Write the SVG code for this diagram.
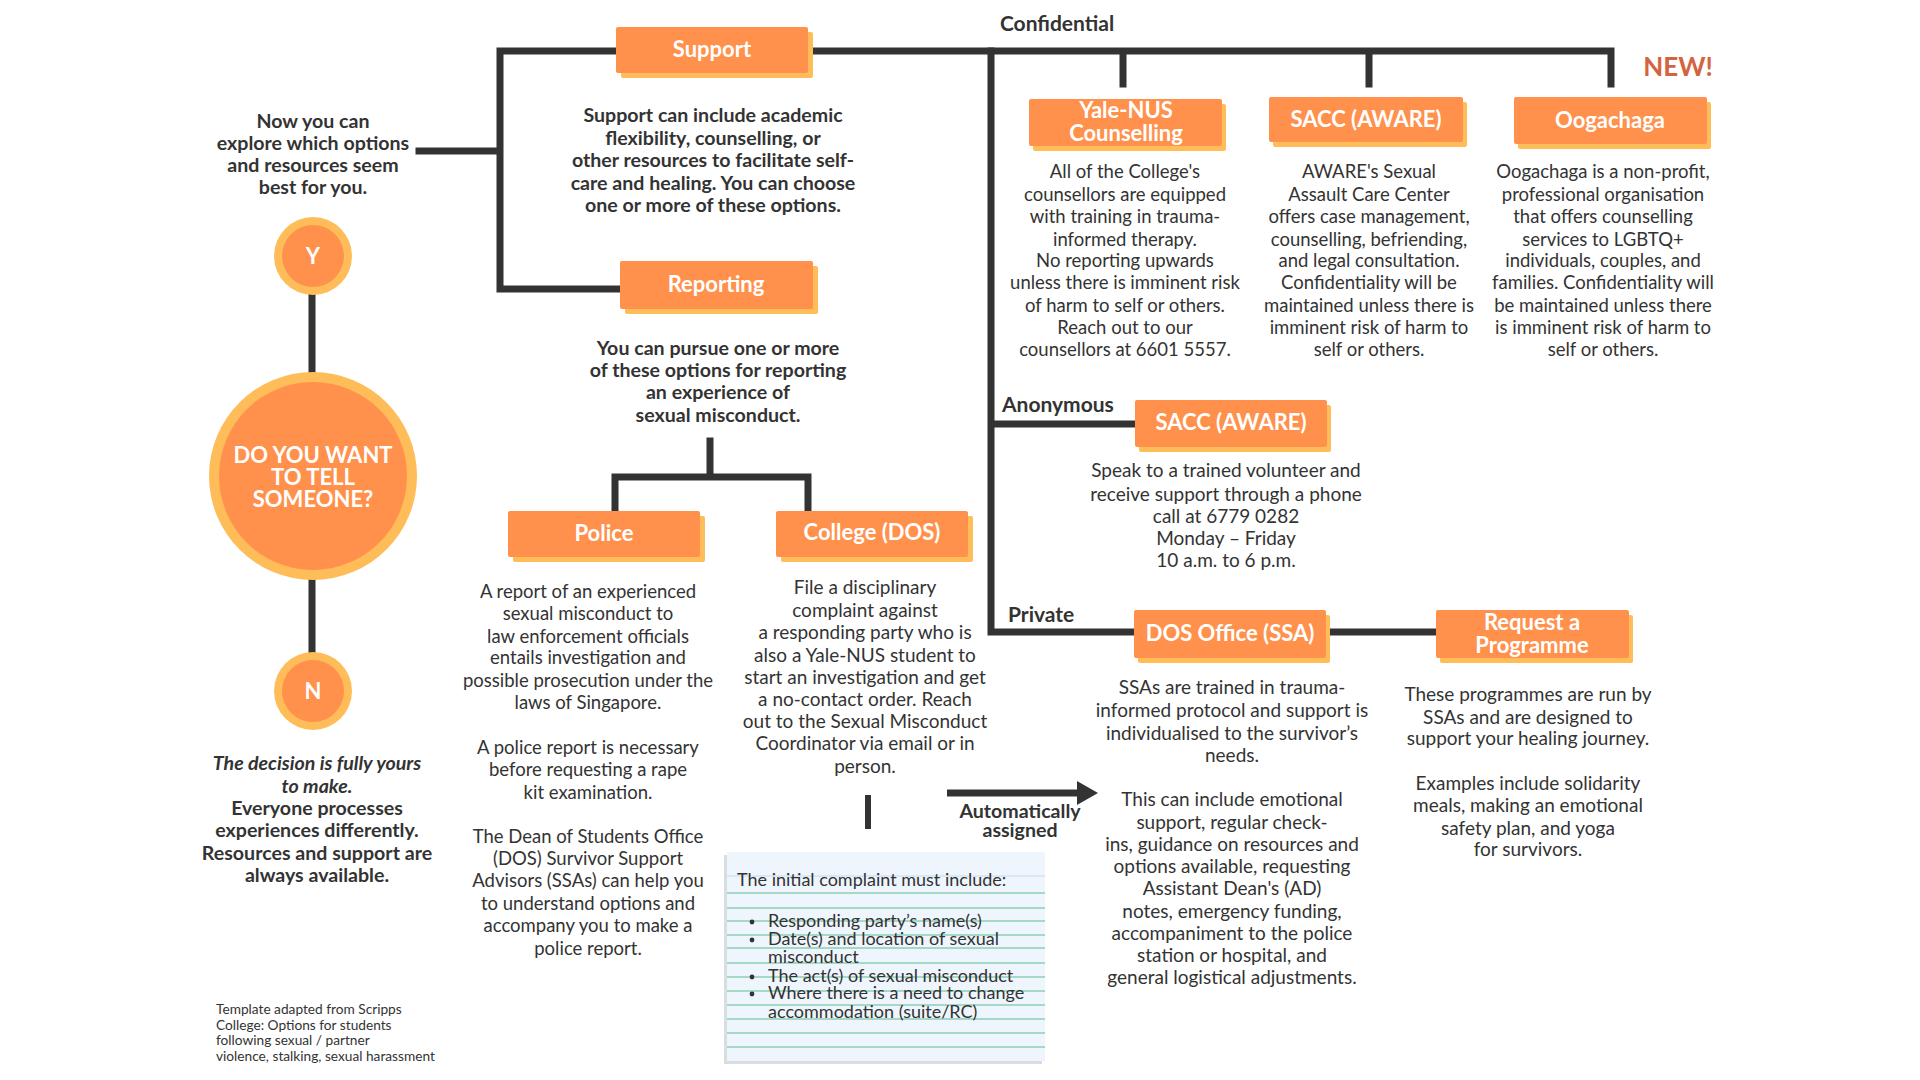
<svg xmlns="http://www.w3.org/2000/svg" width="1920" height="1080" viewBox="0 0 1920 1080">
<defs>
<style>
.ln{stroke:#333333;stroke-width:7;fill:none;stroke-linecap:square}
.sh{fill:#FFBD59}
.bx{fill:#FF914D}
.ring{fill:#FFBD59}
.lbl{font-family:Lato,"Liberation Sans",sans-serif;font-weight:700;font-size:22px;fill:#ffffff;text-anchor:middle}
.t{font-family:Lato,"Liberation Sans",sans-serif;font-size:18.5px;fill:#333333;text-anchor:middle}
.t2{font-family:Lato,"Liberation Sans",sans-serif;font-size:19px;fill:#333333;text-anchor:middle}
.tb{font-family:Lato,"Liberation Sans",sans-serif;font-size:19.6px;font-weight:700;fill:#333333;text-anchor:middle}
.hd{font-family:Lato,"Liberation Sans",sans-serif;font-size:21px;font-weight:700;fill:#333333}
.nb{font-family:Lato,"Liberation Sans",sans-serif;font-size:18px;fill:#333333}
.gl{stroke:#8ECFB2;stroke-width:1.5}
</style>
</defs>
<rect width="1920" height="1080" fill="#ffffff"/>

<g id="connectors">
<path class="ln" d="M419,151 H500 M500,51 V289 M500,51 H616 M500,289 H620"/>
<path class="ln" d="M808,51 H1611 M1123,51 V84 M1369,51 V84 M1611,51 V84"/>
<path class="ln" d="M991,51 V632 M991,424 H1135 M991,632 H1134 M1326,632 H1436"/>
<path class="ln" d="M710,441 V477 M615,477 H808 M615,477 V511 M808,477 V511"/>
<path class="ln" d="M312,295 V372 M312,580 V652"/>
<path d="M868,795 V829" stroke="#333333" stroke-width="6"/>
<path d="M947,793 H1080" stroke="#333333" stroke-width="7"/>
<polygon points="1077,781 1098,793 1077,805" fill="#333333"/>
</g>

<g id="intro">
<text class="tb"><tspan x="313" y="128">Now you can</tspan><tspan x="313" y="150">explore which options</tspan><tspan x="313" y="172">and resources seem</tspan><tspan x="313" y="194">best for you.</tspan></text>
</g>

<g id="node-y">
<circle class="ring" cx="313" cy="256" r="39"/>
<circle class="bx" cx="313" cy="256" r="31"/>
<text class="lbl" x="313" y="264">Y</text>
</g>

<g id="node-question">
<circle class="ring" cx="313" cy="476" r="104"/>
<circle class="bx" cx="313" cy="476" r="94"/>
<text class="lbl" font-size="23"><tspan x="313" y="463">DO YOU WANT</tspan><tspan x="313" y="485">TO TELL</tspan><tspan x="313" y="507">SOMEONE?</tspan></text>
</g>

<g id="node-n">
<circle class="ring" cx="313" cy="691" r="39"/>
<circle class="bx" cx="313" cy="691" r="31"/>
<text class="lbl" x="313" y="699">N</text>
</g>

<g id="decision-text">
<text class="tb" font-size="20"><tspan x="317" y="770" font-style="italic">The decision is fully yours</tspan><tspan x="317" y="793" font-style="italic">to make.</tspan><tspan x="317" y="815">Everyone processes</tspan><tspan x="317" y="837">experiences differently.</tspan><tspan x="317" y="860">Resources and support are</tspan><tspan x="317" y="882">always available.</tspan></text>
</g>

<g id="template-note">
<text font-family="Lato,'Liberation Sans',sans-serif" font-size="13.7" fill="#333333"><tspan x="216" y="1014">Template adapted from Scripps</tspan><tspan x="216" y="1030">College: Options for students</tspan><tspan x="216" y="1045">following sexual / partner</tspan><tspan x="216" y="1061">violence, stalking, sexual harassment</tspan></text>
</g>

<g id="node-support">
<rect class="sh" x="621" y="32" width="192" height="46" rx="2"/>
<rect class="bx" x="616" y="27" width="192" height="46" rx="2"/>
<text class="lbl" x="712" y="57">Support</text>
<text class="tb"><tspan x="713" y="122">Support can include academic</tspan><tspan x="713" y="145">flexibility, counselling, or</tspan><tspan x="713" y="167">other resources to facilitate self-</tspan><tspan x="713" y="190">care and healing. You can choose</tspan><tspan x="713" y="212">one or more of these options.</tspan></text>
</g>

<g id="node-reporting">
<rect class="sh" x="625" y="266" width="193" height="48" rx="2"/>
<rect class="bx" x="620" y="261" width="193" height="48" rx="2"/>
<text class="lbl" x="716" y="292">Reporting</text>
<text class="tb"><tspan x="718" y="355">You can pursue one or more</tspan><tspan x="718" y="377">of these options for reporting</tspan><tspan x="718" y="399">an experience of</tspan><tspan x="718" y="422">sexual misconduct.</tspan></text>
</g>

<g id="node-police">
<rect class="sh" x="513" y="516" width="192" height="46" rx="2"/>
<rect class="bx" x="508" y="511" width="192" height="46" rx="2"/>
<text class="lbl" x="604" y="541">Police</text>
<text class="t"><tspan x="588" y="598">A report of an experienced</tspan><tspan x="588" y="620">sexual misconduct to</tspan><tspan x="588" y="643">law enforcement officials</tspan><tspan x="588" y="664">entails investigation and</tspan><tspan x="588" y="687">possible prosecution under the</tspan><tspan x="588" y="709">laws of Singapore.</tspan><tspan x="588" y="754">A police report is necessary</tspan><tspan x="588" y="776">before requesting a rape</tspan><tspan x="588" y="799">kit examination.</tspan><tspan x="588" y="843">The Dean of Students Office</tspan><tspan x="588" y="865">(DOS) Survivor Support</tspan><tspan x="588" y="887">Advisors (SSAs) can help you</tspan><tspan x="588" y="910">to understand options and</tspan><tspan x="588" y="932">accompany you to make a</tspan><tspan x="588" y="955">police report.</tspan></text>
</g>

<g id="node-college">
<rect class="sh" x="781" y="516" width="192" height="46" rx="2"/>
<rect class="bx" x="776" y="511" width="192" height="46" rx="2"/>
<text class="lbl" x="872" y="540">College (DOS)</text>
<text class="t2"><tspan x="865" y="594">File a disciplinary</tspan><tspan x="865" y="617">complaint against</tspan><tspan x="865" y="639">a responding party who is</tspan><tspan x="865" y="662">also a Yale-NUS student to</tspan><tspan x="865" y="684">start an investigation and get</tspan><tspan x="865" y="706">a no-contact order. Reach</tspan><tspan x="865" y="728">out to the Sexual Misconduct</tspan><tspan x="865" y="750">Coordinator via email or in</tspan><tspan x="865" y="773">person.</tspan></text>
</g>

<g id="complaint-note">
<rect x="724" y="855" width="318" height="209" fill="#DADDE0"/>
<rect x="727" y="852" width="318" height="209" fill="#EEF5FD"/>
<line x1="727" y1="876" x2="1045" y2="876" stroke="#D3E3F2" stroke-width="1.5"/>
<g class="gl">
<line x1="727" y1="893" x2="1045" y2="893"/>
<line x1="727" y1="908" x2="1045" y2="908"/>
<line x1="727" y1="921" x2="1045" y2="921"/>
<line x1="727" y1="935" x2="1045" y2="935"/>
<line x1="727" y1="948" x2="1045" y2="948"/>
<line x1="727" y1="963" x2="1045" y2="963"/>
<line x1="727" y1="977" x2="1045" y2="977"/>
<line x1="727" y1="991" x2="1045" y2="991"/>
<line x1="727" y1="1005" x2="1045" y2="1005"/>
<line x1="727" y1="1019" x2="1045" y2="1019"/>
<line x1="727" y1="1033" x2="1045" y2="1033"/>
<line x1="727" y1="1047" x2="1045" y2="1047"/>
</g>
<text class="nb" x="737" y="886">The initial complaint must include:</text>
<g fill="#333333"><circle cx="752" cy="922" r="2.4"/><circle cx="752" cy="940" r="2.4"/><circle cx="752" cy="977" r="2.4"/><circle cx="752" cy="994" r="2.4"/></g>
<text class="nb"><tspan x="768" y="927">Responding party’s name(s)</tspan><tspan x="768" y="945">Date(s) and location of sexual</tspan><tspan x="768" y="963">misconduct</tspan><tspan x="768" y="982">The act(s) of sexual misconduct</tspan><tspan x="768" y="999">Where there is a need to change</tspan><tspan x="768" y="1018">accommodation (suite/RC)</tspan></text>
</g>

<g id="auto-label">
<text class="tb" font-size="16"><tspan x="1020" y="818">Automatically</tspan><tspan x="1020" y="837">assigned</tspan></text>
</g>

<g id="heading-confidential">
<text class="hd" x="1057" y="31" text-anchor="middle">Confidential</text>
</g>
<g id="new-tag">
<text font-family="Lato,'Liberation Sans',sans-serif" font-size="26" font-weight="700" fill="#D4633F" x="1678" y="76" text-anchor="middle">NEW!</text>
</g>

<g id="node-yalenus">
<rect class="sh" x="1033" y="104" width="193" height="47" rx="2"/>
<rect class="bx" x="1029" y="99" width="193" height="47" rx="2"/>
<text class="lbl"><tspan x="1126" y="118">Yale-NUS</tspan><tspan x="1126" y="141">Counselling</tspan></text>
<text class="t"><tspan x="1125" y="178">All of the College's</tspan><tspan x="1125" y="201">counsellors are equipped</tspan><tspan x="1125" y="223">with training in trauma-</tspan><tspan x="1125" y="246">informed therapy.</tspan><tspan x="1125" y="267">No reporting upwards</tspan><tspan x="1125" y="289">unless there is imminent risk</tspan><tspan x="1125" y="312">of harm to self or others.</tspan><tspan x="1125" y="334">Reach out to our</tspan><tspan x="1125" y="356">counsellors at 6601 5557.</tspan></text>
</g>

<g id="node-sacc">
<rect class="sh" x="1273" y="102" width="194" height="45" rx="2"/>
<rect class="bx" x="1269" y="97" width="194" height="45" rx="2"/>
<text class="lbl" x="1366" y="127">SACC (AWARE)</text>
<text class="t"><tspan x="1369" y="178">AWARE's Sexual</tspan><tspan x="1369" y="201">Assault Care Center</tspan><tspan x="1369" y="223">offers case management,</tspan><tspan x="1369" y="246">counselling, befriending,</tspan><tspan x="1369" y="267">and legal consultation.</tspan><tspan x="1369" y="289">Confidentiality will be</tspan><tspan x="1369" y="312">maintained unless there is</tspan><tspan x="1369" y="334">imminent risk of harm to</tspan><tspan x="1369" y="356">self or others.</tspan></text>
</g>

<g id="node-oogachaga">
<rect class="sh" x="1518" y="102" width="193" height="47" rx="2"/>
<rect class="bx" x="1514" y="97" width="193" height="47" rx="2"/>
<text class="lbl" x="1610" y="128">Oogachaga</text>
<text class="t"><tspan x="1603" y="178">Oogachaga is a non-profit,</tspan><tspan x="1603" y="201">professional organisation</tspan><tspan x="1603" y="223">that offers counselling</tspan><tspan x="1603" y="246">services to LGBTQ+</tspan><tspan x="1603" y="267">individuals, couples, and</tspan><tspan x="1603" y="289">families. Confidentiality will</tspan><tspan x="1603" y="312">be maintained unless there</tspan><tspan x="1603" y="334">is imminent risk of harm to</tspan><tspan x="1603" y="356">self or others.</tspan></text>
</g>

<g id="heading-anonymous">
<text class="hd" x="1002" y="412">Anonymous</text>
</g>

<g id="node-sacc-anon">
<rect class="sh" x="1139" y="405" width="192" height="47" rx="2"/>
<rect class="bx" x="1135" y="400" width="192" height="47" rx="2"/>
<text class="lbl" x="1231" y="430">SACC (AWARE)</text>
<text class="t2"><tspan x="1226" y="477">Speak to a trained volunteer and</tspan><tspan x="1226" y="501">receive support through a phone</tspan><tspan x="1226" y="523">call at 6779 0282</tspan><tspan x="1226" y="545">Monday – Friday</tspan><tspan x="1226" y="567">10 a.m. to 6 p.m.</tspan></text>
</g>

<g id="heading-private">
<text class="hd" x="1008" y="622">Private</text>
</g>

<g id="node-dos">
<rect class="sh" x="1138" y="615" width="192" height="48" rx="2"/>
<rect class="bx" x="1134" y="610" width="192" height="48" rx="2"/>
<text class="lbl" x="1230" y="641">DOS Office (SSA)</text>
<text class="t2"><tspan x="1232" y="694">SSAs are trained in trauma-</tspan><tspan x="1232" y="717">informed protocol and support is</tspan><tspan x="1232" y="740">individualised to the survivor’s</tspan><tspan x="1232" y="762">needs.</tspan><tspan x="1232" y="806">This can include emotional</tspan><tspan x="1232" y="829">support, regular check-</tspan><tspan x="1232" y="851">ins, guidance on resources and</tspan><tspan x="1232" y="873">options available, requesting</tspan><tspan x="1232" y="895">Assistant Dean's (AD)</tspan><tspan x="1232" y="918">notes, emergency funding,</tspan><tspan x="1232" y="940">accompaniment to the police</tspan><tspan x="1232" y="962">station or hospital, and</tspan><tspan x="1232" y="984">general logistical adjustments.</tspan></text>
</g>

<g id="node-request">
<rect class="sh" x="1440" y="615" width="193" height="48" rx="2"/>
<rect class="bx" x="1436" y="610" width="193" height="48" rx="2"/>
<text class="lbl"><tspan x="1532" y="630">Request a</tspan><tspan x="1532" y="653">Programme</tspan></text>
<text class="t2"><tspan x="1528" y="701">These programmes are run by</tspan><tspan x="1528" y="724">SSAs and are designed to</tspan><tspan x="1528" y="745">support your healing journey.</tspan><tspan x="1528" y="790">Examples include solidarity</tspan><tspan x="1528" y="812">meals, making an emotional</tspan><tspan x="1528" y="835">safety plan, and yoga</tspan><tspan x="1528" y="856">for survivors.</tspan></text>
</g>
</svg>
